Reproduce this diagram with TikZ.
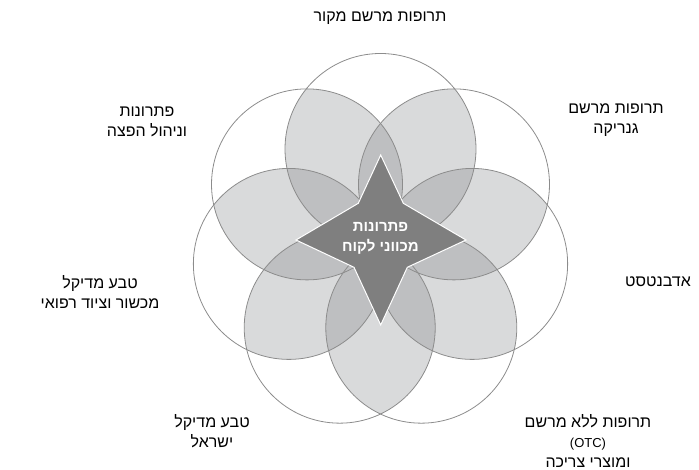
\documentclass[tikz,border=0pt]{standalone}
\usepackage{fontspec}
\setmainfont{Liberation Sans}
\newfontfamily\hebfont[Script=Hebrew]{Liberation Sans}
\TeXXeTstate=1
\usepackage{tikz}
\usetikzlibrary{calc}
\usepackage{xcolor}
\definecolor{lensgray}{HTML}{D9DADB}
\definecolor{deepgray}{HTML}{BEBFC1}
\definecolor{stargray}{HTML}{7F7F7F}
\definecolor{ringgray}{HTML}{8C8C8C}
\newcommand{\heb}[1]{\beginR #1\endR}
\tikzset{
    ring/.style={draw=ringgray, line width=0.8pt},
    lbl/.style={align=center, inner sep=0pt, font=\hebfont\fontsize{16}{20}\selectfont},
    corelbl/.style={align=center, inner sep=0pt, text=white, font=\hebfont\bfseries\fontsize{15}{20}\selectfont}
}

\begin{document}
\begin{tikzpicture}[x=1pt, y=1pt]
    \useasboundingbox (0,0) rectangle (699,470);
    \coordinate (hub) at (380.5,227);
    \foreach \i in {0,...,6}
        \coordinate (c\i) at ($(hub)+({90+360/7*\i}:94)$);
    % overlap of two circles
    \foreach \i in {0,...,6}{
        \foreach \j in {0,...,6}{
            \ifnum\i<\j
            \begin{scope}
                \clip (c\i) circle (95.5);
                \fill[lensgray] (c\j) circle (95.5);
            \end{scope}
            \fi
        }
    }
    % overlap of three circles
    \foreach \i in {0,...,6}{
        \foreach \j in {0,...,6}{
            \foreach \k in {0,...,6}{
                \ifnum\i<\j \ifnum\j<\k
                \begin{scope}
                    \clip (c\i) circle (95.5);
                    \clip (c\j) circle (95.5);
                    \fill[deepgray] (c\k) circle (95.5);
                \end{scope}
                \fi\fi
            }
        }
    }
    \foreach \i in {0,...,6}
        \draw[ring] (c\i) circle (95.5);
    % star
    \filldraw[fill=stargray, draw=white, line width=1pt] (380.7,315) -- (403.3,266.7) -- (466,230) -- (407.3,202.7)
        -- (380.7,145) -- (354,202.7) -- (296,230) -- (358.3,266.7) -- cycle;
    \node[corelbl] (core) at (380.5,232) {\heb{פתרונות}\\\heb{מכווני לקוח}};
    % labels
    \node[lbl] (original) at (380,452) {\heb{תרופות מרשם מקור}};
    \node[lbl] (generic) at (616,350) {\heb{תרופות מרשם}\\\heb{גנריקה}};
    \node[lbl] (advantest) at (658,188) {\heb{אדבנטסט}};
    \node[lbl] (otc) at (588,29) {\heb{תרופות ללא מרשם}\\{\fontsize{13}{16}\selectfont (OTC)}\\\heb{ומוצרי צריכה}};
    \node[lbl] (israel) at (212,38.5) {\heb{טבע מדיקל}\\\heb{ישראל}};
    \node[lbl] (devices) at (100,177.5) {\heb{טבע מדיקל}\\\heb{מכשור וציוד רפואי}};
    \node[lbl] (logistics) at (147,348) {\heb{פתרונות}\\\heb{וניהול הפצה}};
\end{tikzpicture}
\end{document}
